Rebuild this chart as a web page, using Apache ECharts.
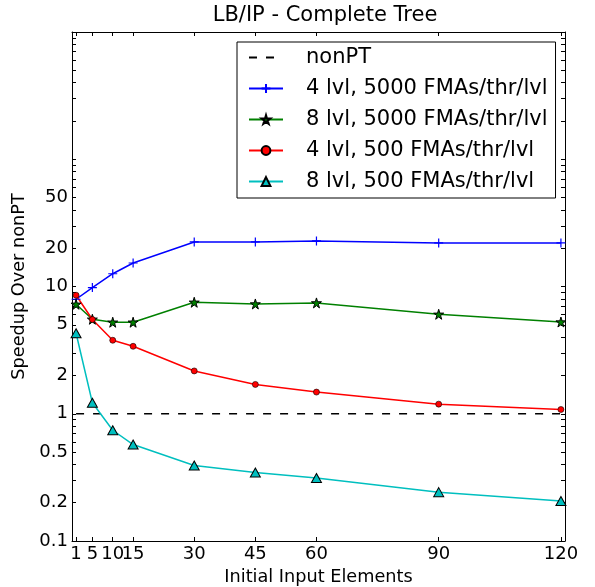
<!DOCTYPE html>
<html>
<head>
<meta charset="utf-8">
<script src="https://cdn.jsdelivr.net/npm/echarts@6/dist/echarts.min.js"></script>
<style>
  html, body { margin: 0; padding: 0; background: #fff; }
  #chart { width: 595px; height: 587px; }
</style>
</head>
<body>
<div id="chart"></div>
<script>
const inputElements = [1, 5, 10, 15, 30, 45, 60, 90, 120];
const lvl4fma5000 = [7.94, 9.81, 12.6, 15.3, 22.4, 22.4, 22.8, 22.0, 22.0];
const lvl8fma5000 = [7.25, 5.53, 5.24, 5.24, 7.52, 7.29, 7.43, 6.05, 5.26];
const lvl4fma500 = [8.54, 5.50, 3.78, 3.39, 2.17, 1.70, 1.48, 1.19, 1.08];
const lvl8fma500 = [4.29, 1.22, 0.742, 0.573, 0.392, 0.345, 0.313, 0.242, 0.206];
const nonPT = [1, 1];
const nonPTx = [1, 120];

const yLabels = [0.1, 0.2, 0.5, 1, 2, 5, 10, 20, 50];
const yMinorTicks = [];
[0.1, 1, 10, 100].forEach(d => {
  for (let k = 1; k <= 9; k++) yMinorTicks.push(+(d * k).toPrecision(3));
});
yMinorTicks.push(1000);

const font = "DejaVu Sans";
const pair = (xs, ys) => xs.map((x, i) => [x, ys[i]]);

const plusPath = "path://M0,5L10,5M5,0L5,10";
const starPath = "path://M50,0L61,35L98,35L68,57L79,91L50,70L21,91L32,57L2,35L39,35Z";

const chart = echarts.init(document.getElementById("chart"));

const axisLine = { show: true, onZero: false, lineStyle: { color: "#000", width: 1 } };
const tickStyle = { color: "#000", width: 1 };

chart.setOption({
  animation: false,
  backgroundColor: "#fff",
  title: {
    text: "LB/IP - Complete Tree",
    left: 320,
    top: 0,
    textAlign: "center",
    textStyle: { fontFamily: font, fontSize: 21, fontWeight: "normal", color: "#000" }
  },
  grid: { left: 72, right: 30, top: 32, bottom: 46, containLabel: false, outerBoundsMode: "none" },
  legend: {
    orient: "vertical",
    left: 237,
    top: 42,
    padding: [5, 8, 6, 11],
    itemWidth: 34,
    itemHeight: 11,
    itemGap: 10,
    borderColor: "#000",
    borderWidth: 1,
    borderRadius: 0,
    backgroundColor: "#fff",
    textStyle: { fontFamily: font, fontSize: 21, color: "#000", lineHeight: 21, padding: [0, 0, 0, 18] },
    data: [
      { name: "nonPT", itemStyle: { opacity: 0 } },
      "4 lvl, 5000 FMAs/thr/lvl",
      "8 lvl, 5000 FMAs/thr/lvl",
      "4 lvl, 500 FMAs/thr/lvl",
      "8 lvl, 500 FMAs/thr/lvl"
    ]
  },
  xAxis: [
    {
      type: "value",
      min: 0,
      max: 121,
      position: "bottom",
      name: "Initial Input Elements",
      nameLocation: "middle",
      nameGap: 24,
      nameTextStyle: { fontFamily: font, fontSize: 17.7, color: "#000" },
      axisLine: axisLine,
      splitLine: { show: false },
      axisTick: { show: true, inside: true, length: 4, customValues: inputElements, lineStyle: tickStyle },
      axisLabel: { customValues: inputElements, fontFamily: font, fontSize: 18, color: "#000", margin: 4 }
    },
    {
      type: "value",
      min: 0,
      max: 121,
      position: "top",
      axisLine: axisLine,
      splitLine: { show: false },
      axisTick: { show: true, inside: true, length: 4, customValues: inputElements, lineStyle: tickStyle },
      axisLabel: { show: false }
    }
  ],
  yAxis: [
    {
      type: "log",
      logBase: 10,
      min: 0.1,
      max: 1000,
      position: "left",
      name: "Speedup Over nonPT",
      nameLocation: "middle",
      nameRotate: 90,
      nameGap: 33,
      nameTextStyle: { fontFamily: font, fontSize: 17.7, color: "#000" },
      axisLine: axisLine,
      splitLine: { show: false },
      minorTick: { show: false },
      axisTick: { show: true, inside: true, length: 4, customValues: yMinorTicks, lineStyle: tickStyle },
      axisLabel: {
        customValues: yLabels,
        fontFamily: font, fontSize: 18, color: "#000", margin: 4,
        formatter: v => String(+v.toPrecision(3))
      }
    },
    {
      type: "log",
      logBase: 10,
      min: 0.1,
      max: 1000,
      position: "right",
      axisLine: axisLine,
      splitLine: { show: false },
      axisTick: { show: true, inside: true, length: 4, customValues: yMinorTicks, lineStyle: tickStyle },
      axisLabel: { show: false }
    }
  ],
  series: [
    {
      name: "nonPT",
      type: "line",
      data: pair(nonPTx, nonPT),
      symbol: "none",
      lineStyle: { color: "#000", width: 1.5, type: [8, 9] },
      itemStyle: { color: "#000" },
      z: 1
    },
    {
      name: "4 lvl, 5000 FMAs/thr/lvl",
      type: "line",
      data: pair(inputElements, lvl4fma5000),
      symbol: plusPath,
      symbolSize: 9,
      showAllSymbol: true,
      lineStyle: { color: "#0000ff", width: 1.5 },
      itemStyle: { color: "#0000ff", borderColor: "#0000ff", borderWidth: 1.2 }
    },
    {
      name: "8 lvl, 5000 FMAs/thr/lvl",
      type: "line",
      data: pair(inputElements, lvl8fma5000),
      symbol: starPath,
      symbolSize: 10,
      showAllSymbol: true,
      lineStyle: { color: "#008000", width: 1.5 },
      itemStyle: { color: "#008000", borderColor: "#000", borderWidth: 1 }
    },
    {
      name: "4 lvl, 500 FMAs/thr/lvl",
      type: "line",
      data: pair(inputElements, lvl4fma500),
      symbol: "circle",
      symbolSize: 6,
      showAllSymbol: true,
      lineStyle: { color: "#ff0000", width: 1.5 },
      itemStyle: { color: "#ff0000", borderColor: "#000", borderWidth: 0.6 }
    },
    {
      name: "8 lvl, 500 FMAs/thr/lvl",
      type: "line",
      data: pair(inputElements, lvl8fma500),
      symbol: "triangle",
      symbolSize: [10, 9],
      showAllSymbol: true,
      lineStyle: { color: "#00bfbf", width: 1.5 },
      itemStyle: { color: "#00bfbf", borderColor: "#000", borderWidth: 1 }
    }
  ]
});
</script>
</body>
</html>
